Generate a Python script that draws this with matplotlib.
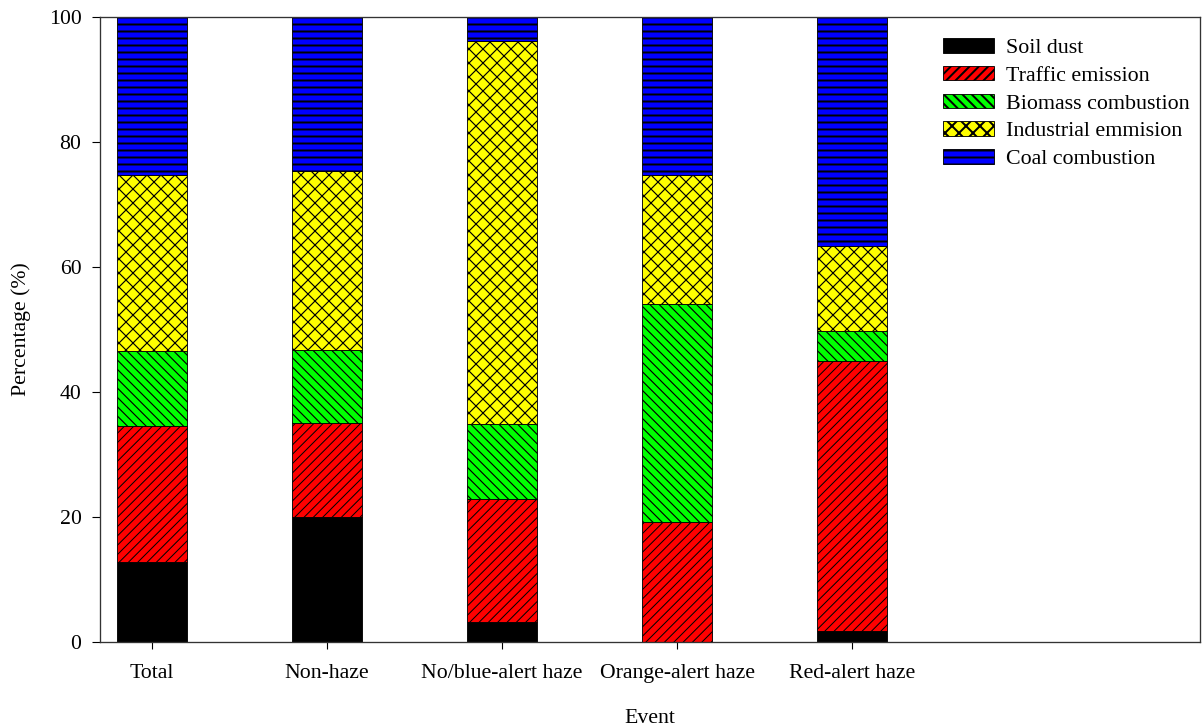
import matplotlib
matplotlib.use("Agg")
import matplotlib.pyplot as plt
import numpy as np

# Source apportionment (%) per event, bottom to top of each stack
events = ["Total", "Non-haze", "No/blue-alert haze", "Orange-alert haze", "Red-alert haze"]
soil_dust = [12.8, 20.0, 3.2, 0.0, 1.8]
traffic = [21.8, 15.0, 19.7, 19.2, 43.2]
biomass = [12.0, 11.7, 12.0, 34.9, 4.8]
industrial = [28.1, 28.7, 61.3, 20.6, 13.6]
coal = [25.3, 24.6, 3.8, 25.3, 36.6]

sources = ["Soil dust", "Traffic emission", "Biomass combustion",
           "Industrial emmision", "Coal combustion"]
colors = ["#000000", "#ff0000", "#00ff00", "#ffff00", "#0000ff"]
hatches = [None, "///", "\\\\\\", "xx", "--"]
hatch_lw = [1.0, 0.86, 1.0, 1.0, 1.7]

plt.rcParams["font.family"] = ["Liberation Serif", "DejaVu Serif"]
plt.rcParams["hatch.color"] = "black"

# dpi 84 -> hatch tile of 84 px, gives whole-pixel hatch spacing
DPI = 84
FS = 18.6
fig = plt.figure(figsize=(1202.01 / DPI, 728.01 / DPI), dpi=DPI)
ax = fig.add_axes([100 / 1202, 86 / 728, 1100 / 1202, 625 / 728])

x = np.arange(len(events))
bottom = np.zeros(len(events))
for name, vals, col, h, hlw in zip(sources, [soil_dust, traffic, biomass, industrial, coal],
                                   colors, hatches, hatch_lw):
    vals = np.array(vals)
    plt.rcParams["hatch.linewidth"] = hlw
    bars = ax.bar(x, vals, 0.4, bottom=bottom, color=col, edgecolor="black",
                  linewidth=0.75, hatch=h, label=name)
    for b in bars:
        if hasattr(b, "set_hatch_linewidth"):
            b.set_hatch_linewidth(hlw)
    bottom += vals

ax.set_xlim(-52 / 175, 1100 / 175 - 52 / 175)
ax.set_ylim(0, 100)
ax.set_yticks(np.arange(0, 101, 20))
ax.set_xticks(x)
ax.set_xticklabels(events)
ax.tick_params(axis="both", direction="out", labelsize=FS, width=0.95, colors="black")
ax.tick_params(axis="y", length=6.9, pad=9)
ax.tick_params(axis="x", length=6, pad=13.2)
for s in ax.spines.values():
    s.set_linewidth(1.14)
    s.set_color("#333333")

ax.set_xlabel("Event", fontsize=FS, labelpad=22.3)
ax.set_ylabel("Percentage (%)", fontsize=FS, labelpad=15.2)

leg = ax.legend(loc="upper left", bbox_to_anchor=(0.7664, 0.9664), frameon=False,
                fontsize=18.86, handlelength=2.32, handleheight=0.64, handletextpad=0.55,
                labelspacing=0.355, borderpad=0, borderaxespad=0)

fig.savefig("out.png", dpi=DPI)
